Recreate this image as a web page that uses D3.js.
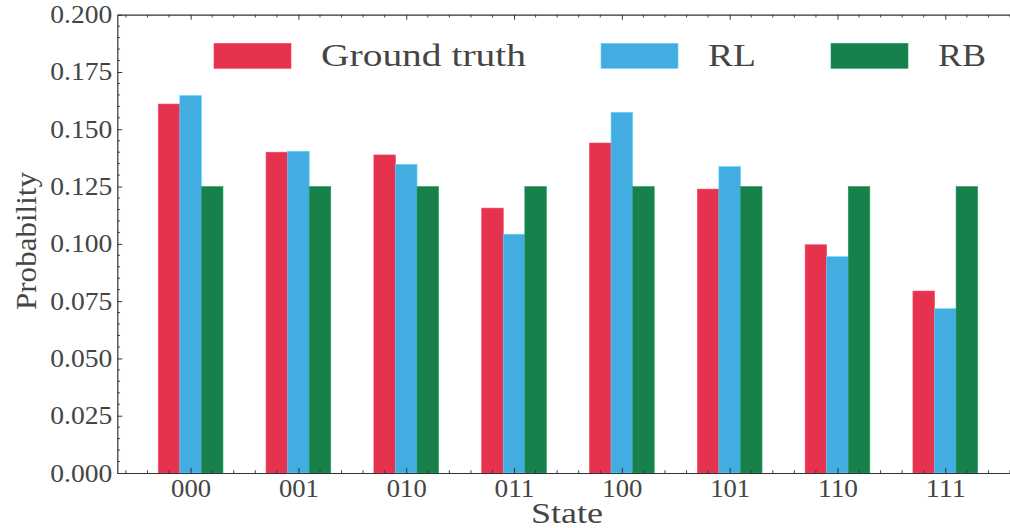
<!DOCTYPE html>
<html>
<head>
<meta charset="utf-8">
<script src="https://cdn.jsdelivr.net/npm/d3@7"></script>
<style>
  html, body { margin: 0; padding: 0; background: #fff; }
  svg { display: block; }
  text { font-family: "Liberation Serif", "DejaVu Serif", serif; fill: #454545; }
</style>
</head>
<body>
<svg id="chart" width="1010" height="528"></svg>
<script>
// ---- data ----
const states = ["000", "001", "010", "011", "100", "101", "110", "111"];
const seriesNames = ["Ground truth", "RL", "RB"];
const groundTruth = [0.161, 0.140, 0.1388, 0.1156, 0.144, 0.1239, 0.0996, 0.0794];
const rl = [0.1647, 0.1404, 0.1347, 0.1042, 0.1574, 0.1337, 0.0944, 0.0717];
const rb = [0.125, 0.125, 0.125, 0.125, 0.125, 0.125, 0.125, 0.125];
const yTicks = [0, 0.025, 0.05, 0.075, 0.1, 0.125, 0.15, 0.175, 0.2];
const yTickLabels = ["0.000", "0.025", "0.050", "0.075", "0.100", "0.125", "0.150", "0.175", "0.200"];

const colors = ["#e5334f", "#43ade2", "#17804b"];
const seriesValues = [groundTruth, rl, rb];
const barW = 0.2;

const svg = d3.select("#chart");
const mLeft = 117.3, mRight = 1018.6, mTop = 14.7, mBottom = 473;

const x = d3.scaleLinear().domain([-0.68, 7.68]).range([mLeft, mRight]);
const y = d3.scaleLinear().domain([0, 0.2]).range([mBottom, mTop]);

// bars
seriesValues.forEach((vals, si) => {
  const off = (si - 1) * barW;
  svg.append("g").selectAll("rect").data(vals).join("rect")
    .attr("x", (d, i) => x(i + off - barW / 2))
    .attr("width", x(barW) - x(0))
    .attr("y", d => y(d))
    .attr("height", d => y(0) - y(d))
    .attr("fill", colors[si])
    .attr("stroke", d3.color(colors[si]).brighter(0.6))
    .attr("stroke-width", 0.6);
});

const axisColor = "#333";
const tickFont = 25;

// y axis
const yAxis = d3.axisLeft(y).tickValues(yTicks).tickFormat((d, i) => yTickLabels[i])
  .tickSizeInner(-5).tickSizeOuter(0).tickPadding(5);
const gy = svg.append("g").attr("transform", `translate(${mLeft},0)`).call(yAxis);
const yMinor = d3.range(0, 0.2001, 0.005).filter(v => Math.abs(Math.round(v / 0.025) * 0.025 - v) > 1e-6);
gy.selectAll(".minor").data(yMinor).join("line").attr("class", "minor")
  .attr("x1", 0).attr("x2", 2.8).attr("y1", d => y(d)).attr("y2", d => y(d))
  .attr("stroke", axisColor).attr("stroke-width", 0.9);

// x axis bottom
const xAxis = d3.axisBottom(x).tickValues(d3.range(states.length)).tickFormat(i => states[i])
  .tickSizeInner(-5).tickSizeOuter(0).tickPadding(6);
const gx = svg.append("g").attr("transform", `translate(0,${mBottom})`).call(xAxis);
const xMinor = d3.range(-0.6, 7.61, 0.2).filter(v => Math.abs(v - Math.round(v)) > 1e-6);
gx.selectAll(".minor").data(xMinor).join("line").attr("class", "minor")
  .attr("x1", d => x(d)).attr("x2", d => x(d)).attr("y1", 0).attr("y2", -2.8)
  .attr("stroke", axisColor).attr("stroke-width", 0.9);

// top axis (ticks only)
const xTop = d3.axisTop(x).tickValues(d3.range(states.length)).tickFormat("")
  .tickSizeInner(-5).tickSizeOuter(0);
const gTop = svg.append("g").attr("transform", `translate(0,${mTop})`).call(xTop);
gTop.selectAll(".minor").data(xMinor).join("line").attr("class", "minor")
  .attr("x1", d => x(d)).attr("x2", d => x(d)).attr("y1", 0).attr("y2", 2.8)
  .attr("stroke", axisColor).attr("stroke-width", 0.9);

[gy, gx, gTop].forEach(g => {
  g.select(".domain").attr("stroke", axisColor).attr("stroke-width", 1.2);
  g.selectAll(".tick line").attr("stroke", axisColor).attr("stroke-width", 1);
  g.selectAll(".tick text").style("font-family", '"Liberation Serif", serif')
    .style("font-size", tickFont + "px").attr("fill", "#454545");
});
gy.selectAll(".tick text").attr("textLength", 62).attr("lengthAdjust", "spacingAndGlyphs");
gx.selectAll(".tick text").attr("textLength", 40).attr("lengthAdjust", "spacingAndGlyphs");

// axis labels
svg.append("text").attr("x", 567).attr("y", 523)
  .attr("text-anchor", "middle").style("font-size", "29px")
  .attr("textLength", 72).attr("lengthAdjust", "spacingAndGlyphs").text("State");
svg.append("text").attr("transform", `translate(36,${241}) rotate(-90)`)
  .attr("text-anchor", "middle").style("font-size", "29px")
  .attr("textLength", 138).attr("lengthAdjust", "spacingAndGlyphs").text("Probability");

// legend
const legendX = [214, 601, 831];
const legendTextW = [205, 48, 48];
const legend = svg.append("g");
seriesNames.forEach((name, i) => {
  legend.append("rect").attr("x", legendX[i]).attr("y", 43.3).attr("width", 77).attr("height", 25)
    .attr("fill", colors[i]).attr("stroke", d3.color(colors[i]).brighter(0.6)).attr("stroke-width", 0.6);
  legend.append("text").attr("x", legendX[i] + 107).attr("y", 66)
    .style("font-size", "32px")
    .attr("textLength", legendTextW[i]).attr("lengthAdjust", "spacingAndGlyphs").text(name);
});
</script>
</body>
</html>
